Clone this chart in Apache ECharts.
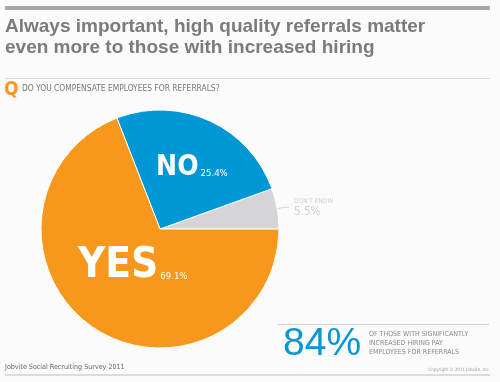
<!DOCTYPE html>
<html><head><meta charset="utf-8">
<script src="https://cdn.jsdelivr.net/npm/echarts@6/dist/echarts.min.js"></script>
<style>html,body{margin:0;padding:0;background:#fbfbfb}#c{width:500px;height:382px}</style>
</head><body><div id="c"></div>
<script>
const categories = ['DON\'T KNOW', 'NO', 'YES'];
const values = [5.5, 25.4, 69.1];
const colors = ['#d5d5d7', '#0097d6', '#f7981d'];
const titleLines = ['Always important, high quality referrals matter', 'even more to those with increased hiring'];
const question = 'DO YOU COMPENSATE EMPLOYEES FOR REFERRALS?';
const highlight = '84%';
const highlightText = ['OF THOSE WITH SIGNIFICANTLY', 'INCREASED HIRING PAY', 'EMPLOYEES FOR REFERRALS'];
const footer = 'Jobvite Social Recruiting Survey 2011';
const copyright = 'Copyright © 2011 Jobvite, Inc.';

const cond = '"DejaVu Sans Condensed","Liberation Sans",Arial,sans-serif';
const font = '"Liberation Sans",Arial,sans-serif';
const chart = echarts.init(document.getElementById('c'));
const data = categories.map((c, i) => {
  const d = { name: c, value: values[i], itemStyle: { color: colors[i] } };
  if (i === 0) {
    d.label = { position: 'outside', formatter: p => '{a|' + p.name + '}\n{b|' + p.value + '%}' };
    d.labelLine = { show: true, length: 8, length2: 4, lineStyle: { color: '#d5d5d7', width: 1 } };
  } else if (i === 2) {
    d.label = { formatter: p => '{bigYes|' + p.name + '}{smallYes|' + p.value + '%}', padding: [0, 0, 28, 16] };
    d.labelLine = { show: false };
  } else {
    d.label = { padding: [0, 0, 8, 12] };
    d.labelLine = { show: false };
  }
  return d;
});
chart.setOption({
  backgroundColor: '#fbfbfb',
  animation: false,
  series: [{
    type: 'pie',
    center: [160, 229],
    radius: [0, 119],
    startAngle: 0,
    clockwise: false,
    itemStyle: { borderColor: '#ffffff', borderWidth: 1 },
    label: {
      position: 'inside',
      formatter: p => '{big|' + p.name + '}{small|' + p.value + '%}',
      rich: {
        big: { fontFamily: cond, fontSize: 28, fontWeight: 'bold', color: '#fff' },
        small: { fontFamily: cond, fontSize: 9.5, color: '#fff', padding: [11, 0, 0, 2] },
        bigYes: { fontFamily: cond, fontSize: 42, fontWeight: 'bold', color: '#fff' },
        smallYes: { fontFamily: cond, fontSize: 9.5, color: '#fff', padding: [20, 0, 0, 2] },
        a: { fontFamily: cond, fontSize: 6.5, color: '#cfcfcf', lineHeight: 9 },
        b: { fontFamily: cond, fontSize: 11.5, color: '#cfcfcf' }
      }
    },
    data: data
  }],
  graphic: [
    { type: 'rect', shape: { x: 5, y: 6, width: 485, height: 4 }, style: { fill: '#a8a8aa' } },
    { type: 'text', left: 5, top: 16, style: { text: titleLines.join('\n'), fontFamily: font, fontWeight: 'bold', fontSize: 19, lineHeight: 21, fill: '#7b7b7d' } },
    { type: 'rect', shape: { x: 5, y: 78, width: 485, height: 1 }, style: { fill: '#dcdcdc' } },
    { type: 'text', left: 4, top: 81, style: { text: 'Q', fontFamily: cond, fontWeight: 'bold', fontSize: 19, fill: '#f7981d' } },
    { type: 'text', left: 22, top: 85, style: { text: question, fontFamily: cond, fontSize: 8.4, fill: '#777' } },
    { type: 'rect', shape: { x: 278, y: 324, width: 211, height: 1 }, style: { fill: '#cfcfcf' } },
    { type: 'text', left: 283, top: 325, style: { text: highlight, fontFamily: font, fontSize: 39, fill: '#0a95d5' } },
    { type: 'text', left: 369, top: 330, style: { text: highlightText.join('\n'), fontFamily: cond, fontSize: 7, lineHeight: 9, fill: '#8a8a8c' } },
    { type: 'text', left: 5, top: 364, style: { text: footer, fontFamily: cond, fontSize: 7.1, fill: '#666' } },
    { type: 'text', right: 10, top: 367, style: { text: copyright, fontFamily: cond, fontSize: 4.5, fill: '#999' } },
    { type: 'rect', shape: { x: 5, y: 374, width: 485, height: 2 }, style: { fill: '#dcdcdc' } }
  ]
});
</script></body></html>
